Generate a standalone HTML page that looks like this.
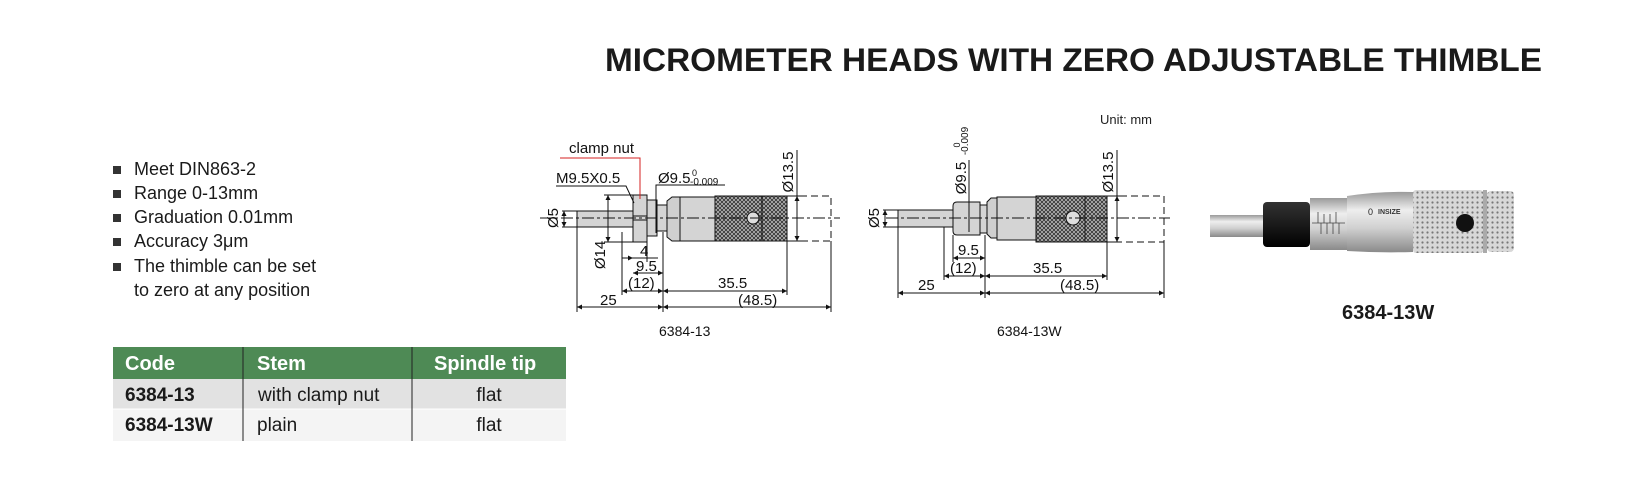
<!DOCTYPE html>
<html><head><meta charset="utf-8"><style>
html,body{margin:0;padding:0;background:#fff;}
svg{display:block;font-family:"Liberation Sans",sans-serif;}
</style></head><body>
<svg width="1646" height="499" viewBox="0 0 1646 499" xmlns="http://www.w3.org/2000/svg">
<defs>
<pattern id="kn" width="4" height="4" patternUnits="userSpaceOnUse">
<rect width="4" height="4" fill="#bcbcbc"/>
<path d="M0,0L4,4M4,0L0,4" stroke="#333" stroke-width="0.9"/>
</pattern>
<pattern id="kp" width="5" height="5" patternUnits="userSpaceOnUse">
<rect width="5" height="5" fill="#d8d8d8"/>
<circle cx="2.5" cy="2.5" r="1.1" fill="#777"/>
</pattern>
<linearGradient id="sil" x1="0" y1="0" x2="0" y2="1">
<stop offset="0" stop-color="#9a9a9a"/><stop offset="0.3" stop-color="#eeeeee"/><stop offset="0.6" stop-color="#d0d0d0"/><stop offset="1" stop-color="#8a8a8a"/>
</linearGradient>
<linearGradient id="blk" x1="0" y1="0" x2="0" y2="1">
<stop offset="0" stop-color="#333"/><stop offset="0.5" stop-color="#1a1a1a"/><stop offset="1" stop-color="#000"/>
</linearGradient>
<marker id="a" viewBox="0 0 6 6" refX="6" refY="3" markerWidth="5" markerHeight="5" orient="auto-start-reverse"><path d="M0,0L6,3L0,6z" fill="#111"/></marker>
</defs>

<!-- Title -->
<text x="605" y="71" font-size="32" font-weight="bold" fill="#1a1a1a" textLength="937" lengthAdjust="spacingAndGlyphs">MICROMETER HEADS WITH ZERO ADJUSTABLE THIMBLE</text>
<text x="1100" y="124" font-size="13" fill="#222">Unit: mm</text>

<!-- Bullets -->
<g font-size="18" fill="#1a1a1a">
<rect x="113" y="166" width="8" height="8" fill="#333"/><text x="134" y="175">Meet DIN863-2</text>
<rect x="113" y="190" width="8" height="8" fill="#333"/><text x="134" y="199">Range 0-13mm</text>
<rect x="113" y="214" width="8" height="8" fill="#333"/><text x="134" y="223">Graduation 0.01mm</text>
<rect x="113" y="238" width="8" height="8" fill="#333"/><text x="134" y="247">Accuracy 3μm</text>
<rect x="113" y="263" width="8" height="8" fill="#333"/><text x="134" y="272">The thimble can be set</text>
<text x="134" y="296">to zero at any position</text>
</g>

<!-- Table -->
<rect x="113" y="347" width="453" height="32" fill="#4e8a55"/>
<rect x="113" y="379" width="453" height="30" fill="#e2e2e2"/>
<rect x="113" y="409" width="453" height="32" fill="#f4f4f4"/>
<line x1="113" y1="409" x2="566" y2="409" stroke="#fff" stroke-width="1"/>
<line x1="243" y1="347" x2="243" y2="441" stroke="#222" stroke-width="1"/>
<line x1="412" y1="347" x2="412" y2="441" stroke="#222" stroke-width="1"/>
<g font-size="20" font-weight="bold" fill="#fff">
<text x="125" y="370">Code</text><text x="257" y="370">Stem</text><text x="434" y="370">Spindle tip</text>
</g>
<g font-size="19" fill="#1a1a1a">
<text x="125" y="401" font-weight="bold">6384-13</text><text x="258" y="401">with clamp nut</text><text x="489" y="401" text-anchor="middle">flat</text>
<text x="125" y="431" font-weight="bold">6384-13W</text><text x="257" y="431">plain</text><text x="489" y="431" text-anchor="middle">flat</text>
</g>

<!-- Drawing 1 -->
<g stroke="#111" stroke-width="1" fill="none">
<rect x="577" y="211" width="56" height="16" fill="#d4d4d4"/>
<rect x="633" y="195" width="14" height="47" fill="#d4d4d4"/>
<line x1="633" y1="216" x2="647" y2="216"/><line x1="633" y1="220" x2="647" y2="220"/>
<rect x="647" y="200" width="10" height="36" fill="#d4d4d4"/>
<rect x="657" y="205" width="10" height="26" fill="#d4d4d4"/>
<path d="M667,201 L672,197 L680,197 L680,241 L672,241 L667,237 Z" fill="#cfcfcf"/>
<rect x="680" y="197" width="35" height="44" fill="#d4d4d4"/>
<rect x="715" y="196" width="72" height="45" fill="url(#kn)"/>
<line x1="762" y1="196" x2="762" y2="241"/>
<circle cx="753" cy="218" r="6" fill="#ddd"/>
<path d="M800,196 H831 V241 H800" stroke-dasharray="7,4"/>
<line x1="540" y1="218" x2="840" y2="218" stroke-dasharray="12,3,3,3"/>
<!-- Ø5 -->
<line x1="562" y1="211" x2="577" y2="211"/><line x1="562" y1="227" x2="577" y2="227"/>
<line x1="564" y1="211" x2="564" y2="227" marker-start="url(#a)" marker-end="url(#a)"/>
<!-- Ø14 -->
<line x1="604" y1="195" x2="633" y2="195"/><line x1="604" y1="242" x2="633" y2="242"/>
<line x1="608" y1="195" x2="608" y2="242" marker-start="url(#a)" marker-end="url(#a)"/>
<!-- M9.5 leader -->
<path d="M556,186 H626 L634,203"/>
<!-- Ø9.5 -->
<path d="M725,185 H656 V233"/>
<!-- Ø13.5 -->
<line x1="787" y1="196" x2="802" y2="196"/><line x1="787" y1="241" x2="802" y2="241"/>
<line x1="797" y1="196" x2="797" y2="241" marker-start="url(#a)" marker-end="url(#a)"/>
<line x1="797" y1="150" x2="797" y2="196"/>
<!-- ext lines -->
<line x1="577" y1="227" x2="577" y2="312"/>
<line x1="622" y1="232" x2="622" y2="295"/>
<line x1="647" y1="242" x2="647" y2="262"/>
<line x1="663" y1="232" x2="663" y2="312"/>
<line x1="787" y1="241" x2="787" y2="295"/>
<line x1="831" y1="241" x2="831" y2="312"/>
<!-- dims -->
<line x1="622" y1="258" x2="633" y2="258" marker-end="url(#a)"/><line x1="633" y1="258" x2="658" y2="258"/>
<line x1="633" y1="273" x2="663" y2="273" marker-start="url(#a)" marker-end="url(#a)"/>
<line x1="622" y1="291" x2="663" y2="291" marker-start="url(#a)" marker-end="url(#a)"/>
<line x1="663" y1="291" x2="787" y2="291" marker-start="url(#a)" marker-end="url(#a)"/>
<line x1="577" y1="307" x2="663" y2="307" marker-start="url(#a)" marker-end="url(#a)"/>
<line x1="663" y1="307" x2="831" y2="307" marker-start="url(#a)" marker-end="url(#a)"/>
</g>
<path d="M560,158 H640 V199" stroke="#d42020" stroke-width="1" fill="none"/>
<g font-size="15" fill="#111">
<text x="569" y="153">clamp nut</text>
<text x="556" y="183">M9.5X0.5</text>
<text x="658" y="183">Ø9.5</text><text x="692" y="176" font-size="9">0</text><text x="690" y="185" font-size="10">-0.009</text>
<text transform="translate(558,218) rotate(-90)" text-anchor="middle">Ø5</text>
<text transform="translate(605,255) rotate(-90)" text-anchor="middle">Ø14</text>
<text transform="translate(793,172) rotate(-90)" text-anchor="middle">Ø13.5</text>
<text x="640" y="256">4</text>
<text x="636" y="271">9.5</text>
<text x="628" y="288">(12)</text>
<text x="718" y="288">35.5</text>
<text x="600" y="305">25</text>
<text x="738" y="305">(48.5)</text>
<text x="659" y="336" font-size="14">6384-13</text>
</g>

<!-- Drawing 2 -->
<g stroke="#111" stroke-width="1" fill="none">
<rect x="898" y="210" width="55" height="17" fill="#d4d4d4"/>
<path d="M957,202 H980 V235 H957 Q953,235 953,231 V206 Q953,202 957,202 Z" fill="#d4d4d4"/>
<rect x="980" y="205" width="7" height="28" fill="#d4d4d4"/>
<path d="M987,202 L991,198 L997,198 L997,238 L991,238 L987,234 Z" fill="#cfcfcf"/>
<rect x="997" y="197" width="39" height="43" fill="#d4d4d4"/>
<rect x="1036" y="196" width="71" height="46" fill="url(#kn)"/>
<line x1="1085" y1="196" x2="1085" y2="242"/>
<circle cx="1073" cy="218" r="7" fill="#ddd"/>
<path d="M1120,196 H1164 V242 H1120" stroke-dasharray="7,4"/>
<line x1="886" y1="218" x2="1170" y2="218" stroke-dasharray="12,3,3,3"/>
<line x1="883" y1="210" x2="898" y2="210"/><line x1="883" y1="227" x2="898" y2="227"/>
<line x1="885" y1="210" x2="885" y2="227" marker-start="url(#a)" marker-end="url(#a)"/>
<line x1="969" y1="160" x2="969" y2="232"/>
<line x1="1107" y1="196" x2="1122" y2="196"/><line x1="1107" y1="242" x2="1122" y2="242"/>
<line x1="1117" y1="196" x2="1117" y2="242" marker-start="url(#a)" marker-end="url(#a)"/>
<line x1="1117" y1="150" x2="1117" y2="196"/>
<line x1="898" y1="227" x2="898" y2="298"/>
<line x1="944" y1="227" x2="944" y2="280"/>
<line x1="953" y1="235" x2="953" y2="262"/>
<line x1="985" y1="235" x2="985" y2="298"/>
<line x1="1107" y1="242" x2="1107" y2="280"/>
<line x1="1164" y1="242" x2="1164" y2="298"/>
<line x1="953" y1="258" x2="985" y2="258" marker-start="url(#a)" marker-end="url(#a)"/>
<line x1="944" y1="276" x2="985" y2="276" marker-start="url(#a)" marker-end="url(#a)"/>
<line x1="985" y1="276" x2="1107" y2="276" marker-start="url(#a)" marker-end="url(#a)"/>
<line x1="898" y1="293" x2="985" y2="293" marker-start="url(#a)" marker-end="url(#a)"/>
<line x1="985" y1="293" x2="1164" y2="293" marker-start="url(#a)" marker-end="url(#a)"/>
</g>
<g font-size="15" fill="#111">
<text transform="translate(879,218) rotate(-90)" text-anchor="middle">Ø5</text>
<text transform="translate(966,178) rotate(-90)" text-anchor="middle">Ø9.5</text>
<text transform="translate(960,145) rotate(-90)" font-size="9" text-anchor="middle">0</text>
<text transform="translate(968,141) rotate(-90)" font-size="10" text-anchor="middle">-0.009</text>
<text transform="translate(1113,172) rotate(-90)" text-anchor="middle">Ø13.5</text>
<text x="958" y="255">9.5</text>
<text x="950" y="273">(12)</text>
<text x="1033" y="273">35.5</text>
<text x="918" y="290">25</text>
<text x="1060" y="290">(48.5)</text>
<text x="997" y="336" font-size="14">6384-13W</text>
</g>

<!-- Photo -->
<g>
<rect x="1210" y="215" width="54" height="22" fill="url(#sil)"/>
<rect x="1263" y="202" width="47" height="45" rx="4" fill="url(#blk)"/>
<rect x="1310" y="198" width="40" height="52" fill="url(#sil)"/>
<g stroke="#444" stroke-width="0.8">
<line x1="1312" y1="223" x2="1345" y2="223"/>
<line x1="1318" y1="212" x2="1318" y2="223"/><line x1="1324" y1="214" x2="1324" y2="223"/><line x1="1330" y1="214" x2="1330" y2="223"/><line x1="1336" y1="212" x2="1336" y2="223"/>
<line x1="1321" y1="223" x2="1321" y2="234"/><line x1="1327" y1="223" x2="1327" y2="234"/><line x1="1333" y1="223" x2="1333" y2="234"/><line x1="1339" y1="223" x2="1339" y2="234"/>
</g>
<path d="M1347,196 Q1380,191 1413,192 L1413,252 Q1380,253 1347,251 Z" fill="url(#sil)"/>
<text x="1368" y="215" font-size="9" fill="#222">0</text>
<text x="1378" y="214" font-size="7" font-weight="bold" fill="#333">INSIZE</text>
<rect x="1413" y="190" width="70" height="63" rx="3" fill="url(#kp)"/>
<rect x="1483" y="190" width="4" height="63" fill="#aaa"/>
<rect x="1487" y="191" width="27" height="61" rx="4" fill="url(#kp)"/>
<circle cx="1465" cy="223" r="9" fill="#111"/>
</g>
<text x="1342" y="319" font-size="20" font-weight="bold" fill="#1a1a1a">6384-13W</text>
</svg>
</body></html>
